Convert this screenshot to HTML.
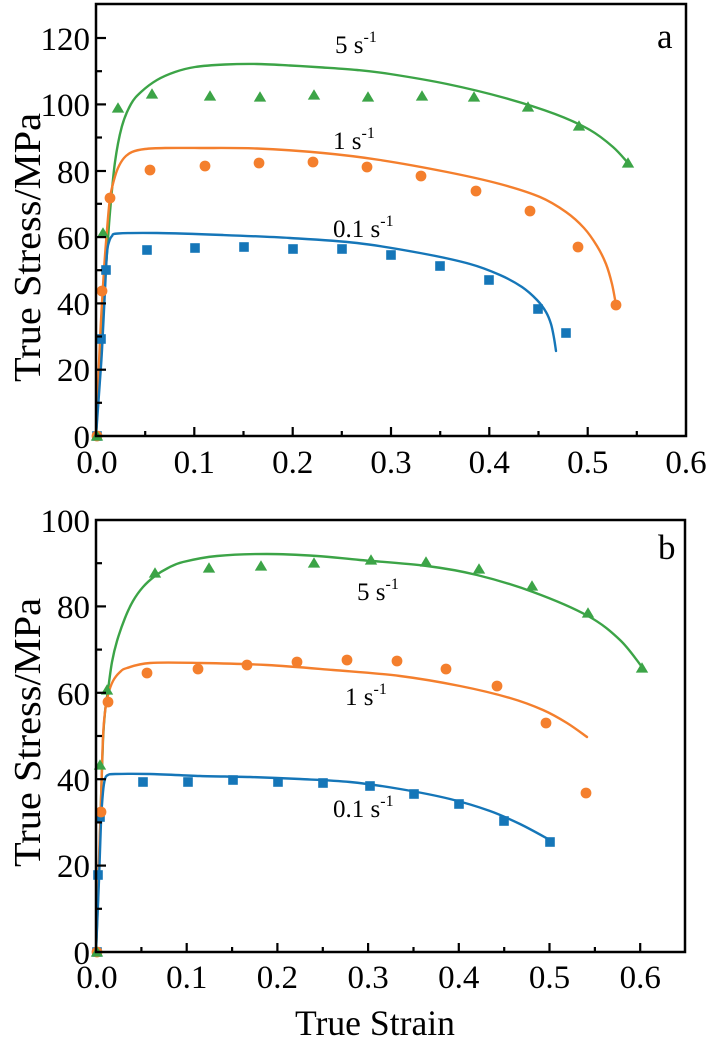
<!DOCTYPE html>
<html><head><meta charset="utf-8"><style>
html,body{margin:0;padding:0;background:#fff;}
svg{display:block;}
svg text{font-family:"Liberation Serif","Times New Roman",serif;fill:#000;}
</style></head><body>
<svg width="713" height="1050" viewBox="0 0 713 1050" xmlns="http://www.w3.org/2000/svg" font-family="Liberation Serif, serif">
<defs>
<g id="sq"><rect x="-4.8" y="-4.8" width="9.6" height="9.6" fill="#1576b8"/></g>
<g id="ci"><circle r="5.4" fill="#f47f2d"/></g>
<g id="tr"><polygon points="0,-5.7 6.2,4.6 -6.2,4.6" fill="#3ca447"/></g>
</defs>

<!-- ============ TOP PANEL ============ -->
<g fill="none" stroke-linejoin="round" stroke-linecap="round" stroke-width="2.4">
<polyline class="sm" stroke="#3ca447" points="96,436 99,380 101,340 104,290 107,253 110,212 115,162 122,126 131,104 141,92 157,80 175,72 195,67 225,64.5 257,64 290,65.5 323,67.5 357,70 390,74 447,84 505,98 555,114 590,130 613,147 628,163"/>
<polyline class="sm" stroke="#f47f2d" points="96,436 100,340 104,270 107,230 110,198 114,180 118,168 124,158 132,152 145,149 165,148 200,148 257,148.5 323,153 380,160 447,172 500,184 540,197 566,212 584,228 597,246 606,264 612,284 616,305"/>
<polyline class="sm" stroke="#1576b8" points="96,436 100,380 102,350 105,290 107,253 109,242 112,236 118,233.5 157,233 223,235 290,238 357,243 420,253 470,264 500,275 522,287 537,300 546,312 551,324 554,338 556,351"/>
</g>
<g>
<use href="#sq" x="97" y="436"/><use href="#sq" x="101" y="339"/><use href="#sq" x="106" y="270"/><use href="#sq" x="147" y="250"/><use href="#sq" x="195" y="248"/><use href="#sq" x="244" y="247"/><use href="#sq" x="293" y="249"/><use href="#sq" x="342" y="249"/><use href="#sq" x="391" y="255"/><use href="#sq" x="440" y="266"/><use href="#sq" x="489" y="280"/><use href="#sq" x="538" y="309"/><use href="#sq" x="566" y="333"/>
<use href="#ci" x="97" y="436"/><use href="#ci" x="102" y="291"/><use href="#ci" x="110" y="198"/><use href="#ci" x="150" y="170"/><use href="#ci" x="205" y="166"/><use href="#ci" x="259" y="163"/><use href="#ci" x="313" y="162"/><use href="#ci" x="367" y="167"/><use href="#ci" x="421" y="176"/><use href="#ci" x="476" y="191"/><use href="#ci" x="530" y="211"/><use href="#ci" x="578" y="247"/><use href="#ci" x="616" y="305"/>
<use href="#tr" x="97" y="436"/><use href="#tr" x="103" y="233"/><use href="#tr" x="118" y="108"/><use href="#tr" x="152" y="94"/><use href="#tr" x="210" y="96"/><use href="#tr" x="260" y="97"/><use href="#tr" x="314" y="95"/><use href="#tr" x="368" y="97"/><use href="#tr" x="422" y="96"/><use href="#tr" x="474" y="97"/><use href="#tr" x="528" y="107"/><use href="#tr" x="579" y="126"/><use href="#tr" x="628" y="163"/>
</g>
<rect x="96" y="4" width="590" height="432" fill="none" stroke="#000" stroke-width="2.5"/>
<g stroke="#000" stroke-width="2.2">
<line x1="96" y1="38" x2="106" y2="38"/><line x1="96" y1="104.4" x2="106" y2="104.4"/><line x1="96" y1="171" x2="106" y2="171"/><line x1="96" y1="237.1" x2="106" y2="237.1"/><line x1="96" y1="303.4" x2="106" y2="303.4"/><line x1="96" y1="369.7" x2="106" y2="369.7"/>
<line x1="96" y1="71.2" x2="102" y2="71.2"/><line x1="96" y1="137.5" x2="102" y2="137.5"/><line x1="96" y1="203.8" x2="102" y2="203.8"/><line x1="96" y1="270.2" x2="102" y2="270.2"/><line x1="96" y1="336.5" x2="102" y2="336.5"/><line x1="96" y1="402.8" x2="102" y2="402.8"/>
<line x1="194.3" y1="436" x2="194.3" y2="427"/><line x1="292.7" y1="436" x2="292.7" y2="427"/><line x1="391" y1="436" x2="391" y2="427"/><line x1="489.3" y1="436" x2="489.3" y2="427"/><line x1="587.7" y1="436" x2="587.7" y2="427"/>
<line x1="145.2" y1="436" x2="145.2" y2="431"/><line x1="243.5" y1="436" x2="243.5" y2="431"/><line x1="341.8" y1="436" x2="341.8" y2="431"/><line x1="440.2" y1="436" x2="440.2" y2="431"/><line x1="538.5" y1="436" x2="538.5" y2="431"/><line x1="636.8" y1="436" x2="636.8" y2="431"/>
</g>
<g font-size="33" text-anchor="end">
<text x="90" y="50">120</text><text x="90" y="116">100</text><text x="90" y="183">80</text><text x="90" y="249">60</text><text x="90" y="315">40</text><text x="90" y="381">20</text><text x="90" y="448">0</text>
</g>
<g font-size="33" text-anchor="middle">
<text x="97" y="473">0.0</text><text x="194.3" y="473">0.1</text><text x="292.7" y="473">0.2</text><text x="391" y="473">0.3</text><text x="489.3" y="473">0.4</text><text x="587.7" y="473">0.5</text><text x="686" y="473">0.6</text>
</g>
<text transform="translate(40,382) rotate(-90)" font-size="38" textLength="269" lengthAdjust="spacingAndGlyphs">True Stress/MPa</text>
<text x="657" y="48" font-size="35">a</text>
<text x="335" y="53" font-size="25">5 s<tspan font-size="16" dy="-11">-1</tspan></text>
<text x="333" y="149" font-size="25">1 s<tspan font-size="16" dy="-11">-1</tspan></text>
<text x="333" y="237" font-size="25">0.1 s<tspan font-size="16" dy="-11">-1</tspan></text>

<!-- ============ BOTTOM PANEL ============ -->
<g fill="none" stroke-linejoin="round" stroke-linecap="round" stroke-width="2.4">
<polyline class="sm" stroke="#3ca447" points="96,952 99,870 101,800 103,740 105,712 108,690 112,662 117,641 125,618 133,601 143,587 155,576 168,568 183,562 217,556 267,554 317,556 360,560 427,566 477,575 533,592 588,616 620,640 642,667"/>
<polyline class="sm" stroke="#f47f2d" points="96,952 99,860 101,800 103,737 105,712 108,695 113,681 120,672 127,668 150,663 200,663 267,665 333,670 400,676 460,686 510,698 543,710 567,723 587,737"/>
<polyline class="sm" stroke="#1576b8" points="96,952 99,880 101,822 103,792 105,779 108,775 115,774 150,774 200,776 250,777 300,779 350,782 400,789 450,799 490,811 520,824 550,840"/>
</g>
<g>
<use href="#sq" x="97" y="952"/><use href="#sq" x="98" y="875"/><use href="#sq" x="100" y="817"/><use href="#sq" x="143" y="782"/><use href="#sq" x="188" y="782"/><use href="#sq" x="233" y="780"/><use href="#sq" x="278" y="782"/><use href="#sq" x="323" y="783"/><use href="#sq" x="370" y="786"/><use href="#sq" x="414" y="794"/><use href="#sq" x="459" y="804"/><use href="#sq" x="504" y="821"/><use href="#sq" x="550" y="842"/>
<use href="#ci" x="97" y="952"/><use href="#ci" x="101" y="812"/><use href="#ci" x="108" y="702"/><use href="#ci" x="147" y="673"/><use href="#ci" x="198" y="669"/><use href="#ci" x="247" y="665"/><use href="#ci" x="297" y="662"/><use href="#ci" x="347" y="660"/><use href="#ci" x="397" y="661"/><use href="#ci" x="446" y="669"/><use href="#ci" x="497" y="686"/><use href="#ci" x="546" y="723"/><use href="#ci" x="586" y="793"/>
<use href="#tr" x="97" y="952"/><use href="#tr" x="100" y="765"/><use href="#tr" x="107" y="690"/><use href="#tr" x="155" y="573"/><use href="#tr" x="209" y="568"/><use href="#tr" x="261" y="566"/><use href="#tr" x="314" y="563"/><use href="#tr" x="371" y="560"/><use href="#tr" x="426" y="562"/><use href="#tr" x="479" y="569"/><use href="#tr" x="532" y="586"/><use href="#tr" x="588" y="613"/><use href="#tr" x="642" y="668"/>
</g>
<rect x="96" y="520" width="589" height="432" fill="none" stroke="#000" stroke-width="2.5"/>
<g stroke="#000" stroke-width="2.2">
<line x1="96" y1="606.4" x2="106" y2="606.4"/><line x1="96" y1="692.8" x2="106" y2="692.8"/><line x1="96" y1="779.2" x2="106" y2="779.2"/><line x1="96" y1="865.6" x2="106" y2="865.6"/>
<line x1="96" y1="563.2" x2="102" y2="563.2"/><line x1="96" y1="649.6" x2="102" y2="649.6"/><line x1="96" y1="736" x2="102" y2="736"/><line x1="96" y1="822.4" x2="102" y2="822.4"/><line x1="96" y1="908.8" x2="102" y2="908.8"/>
<line x1="186.7" y1="952" x2="186.7" y2="943"/><line x1="277.4" y1="952" x2="277.4" y2="943"/><line x1="368.1" y1="952" x2="368.1" y2="943"/><line x1="458.8" y1="952" x2="458.8" y2="943"/><line x1="549.5" y1="952" x2="549.5" y2="943"/><line x1="640.2" y1="952" x2="640.2" y2="943"/>
<line x1="141.4" y1="952" x2="141.4" y2="947"/><line x1="232.1" y1="952" x2="232.1" y2="947"/><line x1="322.8" y1="952" x2="322.8" y2="947"/><line x1="413.5" y1="952" x2="413.5" y2="947"/><line x1="504.2" y1="952" x2="504.2" y2="947"/><line x1="594.9" y1="952" x2="594.9" y2="947"/>
</g>
<g font-size="33" text-anchor="end">
<text x="90" y="532">100</text><text x="90" y="618">80</text><text x="90" y="705">60</text><text x="90" y="791">40</text><text x="90" y="877">20</text><text x="90" y="964">0</text>
</g>
<g font-size="33" text-anchor="middle">
<text x="97" y="988">0.0</text><text x="186.7" y="988">0.1</text><text x="277.4" y="988">0.2</text><text x="368.1" y="988">0.3</text><text x="458.8" y="988">0.4</text><text x="549.5" y="988">0.5</text><text x="640.2" y="988">0.6</text>
</g>
<text transform="translate(40,867) rotate(-90)" font-size="38" textLength="269" lengthAdjust="spacingAndGlyphs">True Stress/MPa</text>
<text x="375" y="1035" font-size="36" text-anchor="middle" textLength="160" lengthAdjust="spacingAndGlyphs">True Strain</text>
<text x="658" y="559" font-size="35">b</text>
<text x="357" y="600" font-size="25">5 s<tspan font-size="16" dy="-11">-1</tspan></text>
<text x="345" y="705" font-size="25">1 s<tspan font-size="16" dy="-11">-1</tspan></text>
<text x="333" y="817" font-size="25">0.1 s<tspan font-size="16" dy="-11">-1</tspan></text>
</svg>
<script>
(function(){
  var NS="http://www.w3.org/2000/svg";
  var pls=document.querySelectorAll("polyline.sm");
  for(var k=0;k<pls.length;k++){
    var pl=pls[k];
    var raw=pl.getAttribute("points").trim().split(/\s+/);
    var p=raw.map(function(s){var a=s.split(",");return [parseFloat(a[0]),parseFloat(a[1])];});
    var d="M"+p[0][0]+","+p[0][1];
    for(var i=0;i<p.length-1;i++){
      var p0=p[i>0?i-1:i],p1=p[i],p2=p[i+1],p3=p[i+2<p.length?i+2:i+1];
      var c1x=p1[0]+(p2[0]-p0[0])/6,c1y=p1[1]+(p2[1]-p0[1])/6;
      var c2x=p2[0]-(p3[0]-p1[0])/6,c2y=p2[1]-(p3[1]-p1[1])/6;
      d+=" C"+c1x.toFixed(2)+","+c1y.toFixed(2)+" "+c2x.toFixed(2)+","+c2y.toFixed(2)+" "+p2[0]+","+p2[1];
    }
    var path=document.createElementNS(NS,"path");
    path.setAttribute("d",d);
    path.setAttribute("stroke",pl.getAttribute("stroke"));
    path.setAttribute("fill","none");
    pl.parentNode.replaceChild(path,pl);
  }
})();
</script>
</body></html>
